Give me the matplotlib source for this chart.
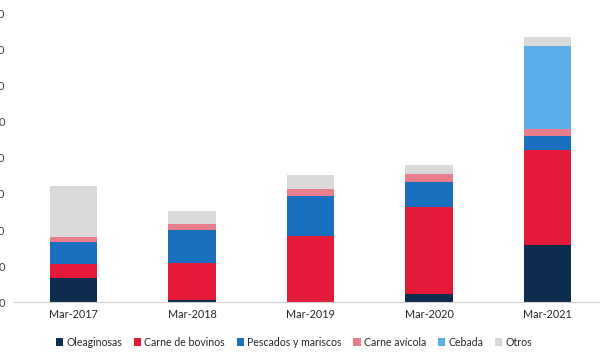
import numpy as np
import matplotlib.pyplot as plt
from matplotlib.patches import Patch

plt.rcParams["font.family"] = ["Lato", "DejaVu Sans"]

# datos (unidades del eje)
periodos = ["Mar-2017", "Mar-2018", "Mar-2019", "Mar-2020", "Mar-2021"]
oleaginosas = [67, 8, 0, 24, 158]
carne_bovinos = [38, 102, 183, 240, 264]
pescados = [63, 89, 111, 69, 39]
carne_avicola = [13, 17, 20, 23, 20]
cebada = [0, 0, 0, 0, 229]
otros = [141, 36, 38, 25, 24]

series = [
    ("Oleaginosas", oleaginosas, "#0c2d4e"),
    ("Carne de bovinos", carne_bovinos, "#e31b38"),
    ("Pescados y mariscos", pescados, "#1a6fbe"),
    ("Carne avícola", carne_avicola, "#ea7d8c"),
    ("Cebada", cebada, "#59aee9"),
    ("Otros", otros, "#d9d9d9"),
]

fig = plt.figure(figsize=(6, 3.6), dpi=100)
ax = fig.add_axes([0.024, 0.16, 0.987, 0.803])

x = np.arange(len(periodos))
bottom = np.zeros(len(periodos))
for name, vals, color in series:
    vals = np.array(vals, dtype=float)
    ax.bar(x, vals, 0.4, bottom=bottom, color=color, label=name, linewidth=0)
    bottom += vals

ax.set_xlim(-0.5, 4.5)
ax.set_ylim(0, 800)
ax.set_yticks(np.arange(0, 801, 100))
ax.set_xticks(x)
ax.set_xticklabels(periodos)

for s in ["top", "right", "left"]:
    ax.spines[s].set_visible(False)
ax.spines["bottom"].set_color("#d0d0d0")
ax.spines["bottom"].set_linewidth(0.8)

# el eje y queda recortado en el borde izquierdo, como en el original
ax.tick_params(axis="y", length=0, pad=6.5, labelsize=8, labelcolor="#404040")
ax.tick_params(axis="x", length=0, pad=5, labelsize=7.8, labelcolor="#262626")

handles = [Patch(facecolor=c, label=n) for n, _, c in series]
fig.legend(
    handles=handles,
    loc="center",
    bbox_to_anchor=(0.49, 0.05),
    ncol=6,
    frameon=False,
    fontsize=7.6,
    handlelength=0.7,
    handleheight=0.7,
    handletextpad=0.3,
    columnspacing=1.1,
    labelcolor="#262626",
)

fig.savefig("out.png", dpi=100)
